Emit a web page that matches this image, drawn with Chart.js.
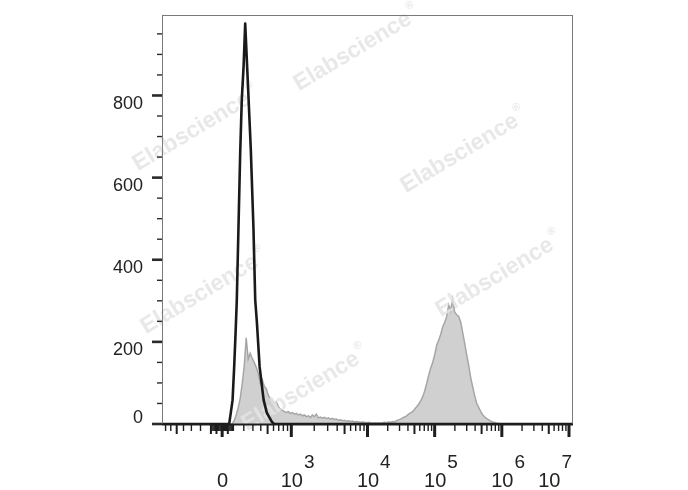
<!DOCTYPE html>
<html><head><meta charset="utf-8">
<script src="https://cdn.jsdelivr.net/npm/chart.js@4"></script>
<style>html,body{margin:0;padding:0;background:#fff}#wrap{width:688px;height:490px}</style>
</head><body><div id="wrap"><canvas id="c" width="688" height="490"></canvas></div>
<script>
// ---- data (x in display channels 0..205, y = cell count) ----
const channelMax = 205;
const stainedFirstChannel = 35;
const stainedCounts = [
  0, 8, 22, 40, 62, 98, 140, 210, 158, 172,
  160, 150, 138, 124, 100, 108, 92, 86, 70, 62,
  58, 50, 54, 42, 36, 34, 30, 28, 30, 26,
  28, 24, 26, 22, 24, 20, 22, 18, 20, 16,
  22, 18, 24, 15, 17, 14, 16, 13, 15, 12,
  14, 11, 12, 9, 10, 8, 9, 7, 8, 6,
  7, 5, 6, 5, 4, 5, 4, 3, 4, 3,
  2, 3, 2, 3, 2, 3, 4, 3, 5, 4,
  6, 5, 8, 10, 12, 15, 17, 20, 24, 27,
  30, 36, 42, 48, 56, 66, 80, 98, 118, 136,
  150, 168, 192, 204, 218, 236, 248, 262, 290, 276,
  304, 272, 266, 262, 248, 222, 196, 168, 142, 112,
  90, 68, 50, 40, 30, 22, 17, 13, 10, 7,
  5, 4, 2, 1, 0
];
const controlChannels = [0, 33.5, 34.3, 35.2, 36, 36.7, 37.3, 39, 39.8, 40.7, 41.5, 43.2, 44.3, 45.6, 46.5, 47.3, 48.7, 50.7, 52.3, 54.8, 56, 205];
const controlCounts   = [0, 0,    27,   58,   139, 222, 300,  660, 790,  871,  975,  790,  668,  480,  302,  250,  139,  58,   27,   5,    0,  0];

const yMax = 996;
const yTickValues = [0, 200, 400, 600, 800];
const yTickLabels = ['0', '200', '400', '600', '800'];
const xMajorValues = [0, 1e3, 1e4, 1e5, 1e6, 1e7];
const xMajorBase = ['0', '10', '10', '10', '10', '10'];
const xMajorExp = ['', '3', '4', '5', '6', '7'];
const watermarkText = 'Elabscience';

// biexponential display transform: value -> display channel
function toChannel(v) {
  if (v >= 1e4) return 102.5 + 33.5 * (Math.log10(v) - 4);
  if (v >= 1e3) return 64.5 + 38 * (Math.log10(v) - 3);
  const s = Math.sign(v), t = Math.abs(v) / 1000;
  return 30 + s * 34.5 * Math.asinh(3 * t) / Math.asinh(3);
}

// tick value lists
const xTicks = [];
for (let k = -9; k <= 9; k++) { if (k !== 0) xTicks.push({v: k * 10, kind: Math.abs(k) === 5 ? 1 : 0}); }
for (let k = 1; k <= 9; k++) { xTicks.push({v: k * 100, kind: k === 5 ? 1 : 0}); xTicks.push({v: -k * 100, kind: k === 5 || k === 1 ? 1 : 0}); }
for (let e = 3; e <= 6; e++) for (let m = 2; m <= 9; m++) xTicks.push({v: m * Math.pow(10, e), kind: m === 5 ? 1 : 0});
xMajorValues.forEach(v => xTicks.push({v, kind: 2}));

const stainedData = stainedCounts.map((y, i) => ({x: stainedFirstChannel + i, y}));
stainedData.unshift({x: 0, y: 0});
stainedData.push({x: channelMax, y: 0});
const controlData = controlChannels.map((x, i) => ({x, y: controlCounts[i]}));

const FONT = '"Liberation Sans", Arial, Helvetica, sans-serif';
const wmPositions = [[357, 49], [196, 129], [464, 151], [204, 292], [499, 275], [305, 389]];

const decor = {
  id: 'decor',
  afterDatasetDraw(chart, args) {
    if (args.index !== 1) return;
    const ctx = chart.ctx;
    ctx.save();
    ctx.fillStyle = 'rgba(228,228,228,0.85)';
    wmPositions.forEach(([cx, cy]) => {
      ctx.save();
      ctx.translate(cx, cy);
      ctx.rotate(-31 * Math.PI / 180);
      ctx.font = 'bold 23px ' + FONT;
      const w = ctx.measureText(watermarkText).width;
      ctx.textBaseline = 'middle';
      ctx.textAlign = 'left';
      ctx.fillText(watermarkText, -w / 2 - 5, 0);
      ctx.font = 'bold 11px ' + FONT;
      ctx.fillText('\u00AE', w / 2 - 3, -10);
      ctx.restore();
    });
    ctx.restore();
  },
  afterDraw(chart) {
    const ctx = chart.ctx, a = chart.chartArea, xs = chart.scales.x, ys = chart.scales.y;
    ctx.save();
    // frame
    ctx.strokeStyle = '#7a7a7a'; ctx.lineWidth = 1;
    ctx.strokeRect(a.left + 0.5, a.top + 0.5, a.right - a.left - 1, a.bottom - a.top);
    // bottom axis line
    ctx.strokeStyle = '#1e1e1e'; ctx.lineWidth = 2;
    ctx.beginPath(); ctx.moveTo(a.left, a.bottom + 0.5); ctx.lineTo(a.right, a.bottom + 0.5); ctx.stroke();
    // y ticks
    ctx.strokeStyle = '#2a2a2a';
    for (let v = 0; v <= 950; v += 50) {
      const y = ys.getPixelForValue(v);
      const major = v % 200 === 0;
      ctx.lineWidth = major ? 2.6 : 1.4;
      ctx.beginPath(); ctx.moveTo(a.left - (major ? 10 : 5), y); ctx.lineTo(a.left, y); ctx.stroke();
    }
    // y labels
    ctx.fillStyle = '#222'; ctx.font = '18px ' + FONT; ctx.textAlign = 'right'; ctx.textBaseline = 'alphabetic';
    yTickValues.forEach((v, i) => {
      const y = ys.getPixelForValue(v);
      ctx.fillText(yTickLabels[i], 143, v === 0 ? y - 1 : y + 13.5);
    });
    // x ticks
    const lens = [7, 10, 13], widths = [1.4, 2, 3];
    xTicks.forEach(t => {
      const x = xs.getPixelForValue(toChannel(t.v));
      if (x < a.left - 0.5 || x > a.right + 0.5) return;
      ctx.strokeStyle = '#1e1e1e';
      ctx.lineWidth = widths[t.kind];
      ctx.beginPath(); ctx.moveTo(x, a.bottom); ctx.lineTo(x, a.bottom + lens[t.kind]); ctx.stroke();
    });
    // x labels
    ctx.textAlign = 'left'; ctx.textBaseline = 'alphabetic'; ctx.fillStyle = '#222';
    xMajorValues.forEach((v, i) => {
      const x = xs.getPixelForValue(toChannel(v));
      ctx.font = '20px ' + FONT;
      const wb = ctx.measureText(xMajorBase[i]).width;
      ctx.font = '19px ' + FONT;
      const we = xMajorExp[i] ? ctx.measureText(xMajorExp[i]).width : 0;
      let sx = x + 0.5 - wb / 2;
      const total = wb + (we ? we + 1 : 0);
      if (sx + total > a.right - 1) sx = a.right - 1 - total;
      ctx.font = '20px ' + FONT;
      ctx.fillText(xMajorBase[i], sx, 487);
      if (we) { ctx.font = '19px ' + FONT; ctx.fillText(xMajorExp[i], sx + wb + 1, 468); }
    });
    ctx.restore();
  }
};

new Chart(document.getElementById('c'), {
  type: 'line',
  data: {
    datasets: [
      {label: 'Control', data: controlData, borderColor: '#1a1a1a', borderWidth: 2.6, fill: false,
       pointRadius: 0, tension: 0, borderJoinStyle: 'round'},
      {label: 'Stained', data: stainedData, borderColor: '#a6a6a6', backgroundColor: '#d0d0d0', borderWidth: 1.5,
       fill: 'origin', pointRadius: 0, tension: 0}
    ]
  },
  options: {
    responsive: false, animation: false, parsing: true,
    layout: {padding: {left: 162, right: 115, top: 15, bottom: 66}},
    plugins: {legend: {display: false}, tooltip: {enabled: false}},
    scales: {
      x: {type: 'linear', min: 0, max: channelMax, display: false},
      y: {type: 'linear', min: 0, max: yMax, display: false}
    }
  },
  plugins: [decor]
});
</script>
</body></html>
